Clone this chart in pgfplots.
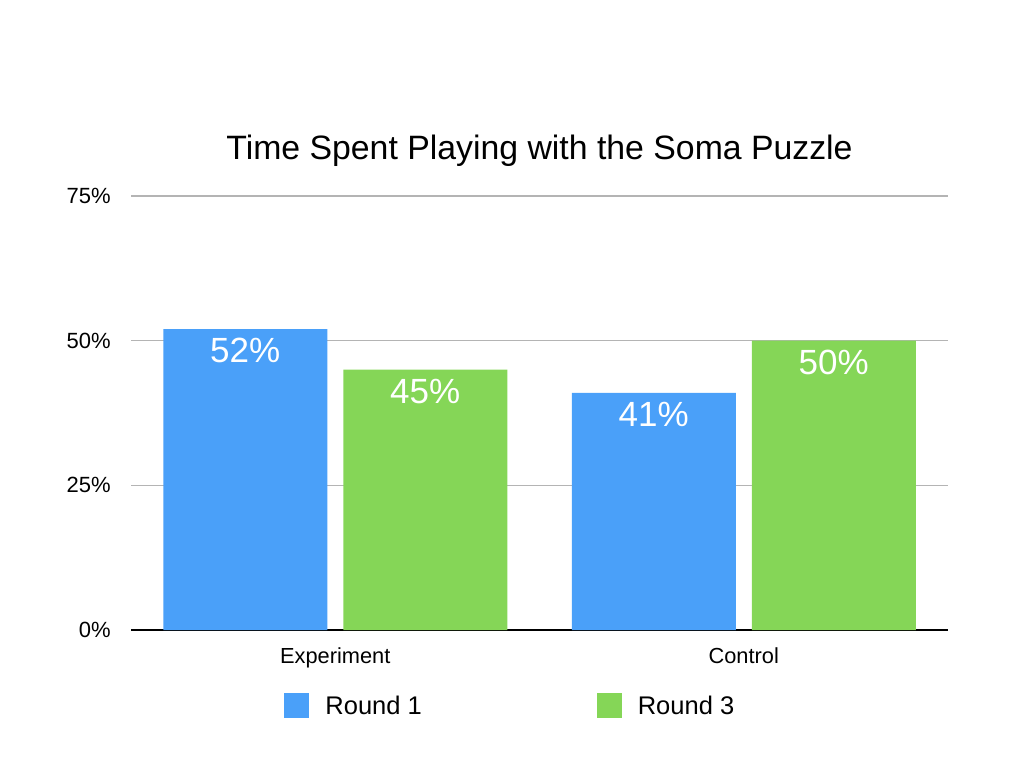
\documentclass[border=0pt]{standalone}
\usepackage{fontspec}
\setmainfont{Liberation Sans}
\usepackage{pgfplots}
\pgfplotsset{compat=1.18}

\definecolor{roundone}{RGB}{74,160,249}
\definecolor{roundthree}{RGB}{133,214,87}
\definecolor{gridgray}{RGB}{180,180,180}

\begin{document}
\begin{tikzpicture}
\useasboundingbox (0,0) rectangle (512pt,384pt);
% title, centred over the axis box
\node[anchor=base, font=\fontsize{16.9}{20}\selectfont] at (269.75pt,304.5pt)
  {Time Spent Playing with the Soma Puzzle};
\begin{axis}[
  at={(65.5pt,69pt)}, anchor=south west,
  scale only axis,
  width=408.5pt, height=217pt,
  ybar=8pt, bar width=82pt,
  xmin=-0.5, xmax=1.5,
  ymin=0, ymax=75,
  xtick=data,
  xticklabels={Experiment,Control},
  ytick={0,25,50,75},
  yticklabel={\pgfmathprintnumber{\tick}\%},
  /pgf/number format/assume math mode=true,
  major tick length=0pt,
  axis lines*=left,
  x axis line style={black, line width=0.8pt},
  y axis line style={draw=none},
  ymajorgrids,
  major grid style={gridgray, line width=0.6pt},
  yticklabel style={anchor=east, inner sep=0pt, xshift=-10pt,
    font=\fontsize{11}{13}\selectfont},
  xticklabel style={anchor=base, inner sep=0pt, yshift=-16.5pt,
    font=\fontsize{10.9}{13}\selectfont},
  nodes near coords={\pgfmathprintnumber{\pgfplotspointmeta}\%},
  nodes near coords style={anchor=center, yshift=-10.75pt, text=white,
    font=\fontsize{17.5}{20}\selectfont},
  legend columns=2,
  legend style={draw=none, fill=none, inner sep=0pt,
    at={(0.1873,-0.1775)}, anchor=base west,
    nodes={inner sep=0pt}, font=\fontsize{12.75}{15}\selectfont,
    /tikz/every odd column/.append style={column sep=8pt},
    /tikz/every even column/.append style={column sep=87.5pt}},
  legend image code/.code={\fill[#1] (0pt,-5.65pt) rectangle (12.5pt,6.85pt);},
]
\addplot[fill=roundone, draw=none] coordinates {(0,52) (1,41)};
\addplot[fill=roundthree, draw=none] coordinates {(0,45) (1,50)};
\legend{Round 1, Round 3}
\end{axis}
\end{tikzpicture}
\end{document}
